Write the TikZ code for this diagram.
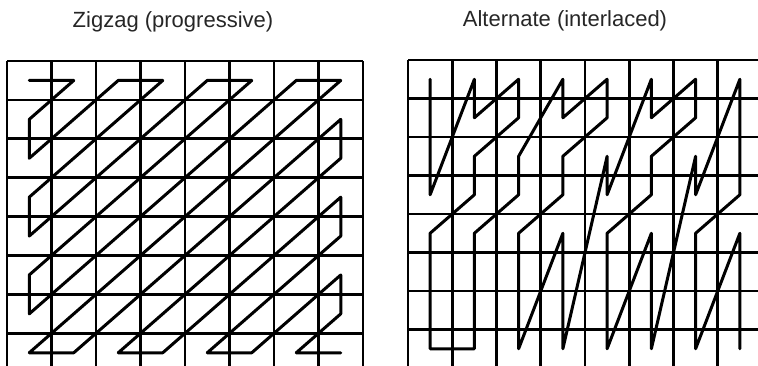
\documentclass[tikz,border=0pt]{standalone}
\usepackage{fontspec}
\setmainfont{Liberation Sans}
\begin{document}
\begin{tikzpicture}[x=1pt,y=-1pt,
  gridline/.style={line width=2.8pt, black},
  scanline/.style={line width=3pt, black, line join=round, line cap=round},
  title/.style={font=\fontsize{22}{26}\selectfont, inner sep=0pt, text=black!85}]
\useasboundingbox (0,0) rectangle (758,365);
\begin{scope}
\clip (0,0) rectangle (758,365);
% ---------- left grid (zigzag) ----------
\def\lx{7}\def\ly{61}\def\lw{44.5}\def\lh{38.9}
\foreach \i in {0,...,8} {
  \draw[gridline] (\lx+\i*\lw, \ly) -- (\lx+\i*\lw, \ly+8*\lh);
  \draw[gridline] (\lx, \ly+\i*\lh) -- (\lx+8*\lw, \ly+\i*\lh);
}
\foreach \c in {0,...,7} \foreach \r in {0,...,7}
  \coordinate (L\c\r) at (\lx+\c*\lw+0.5*\lw, \ly+\r*\lh+0.5*\lh);
\draw[scanline] (L00)--(L10)--(L01)--(L02)--(L20)--(L30)--(L03)--(L04)--(L40)--(L50)
  --(L05)--(L06)--(L60)--(L70)--(L07)--(L17)--(L71)--(L72)--(L27)--(L37)--(L73)--(L74)
  --(L47)--(L57)--(L75)--(L76)--(L67)--(L77);
% ---------- right grid (alternate) ----------
\def\rx{408}\def\ry{60}\def\rw{44.25}\def\rh{38.5}
\foreach \i in {0,...,8} {
  \draw[gridline] (\rx+\i*\rw, \ry) -- (\rx+\i*\rw, \ry+8*\rh);
  \draw[gridline] (\rx, \ry+\i*\rh) -- (\rx+8*\rw, \ry+\i*\rh);
}
\foreach \c in {0,...,7} \foreach \r in {0,...,7}
  \coordinate (R\c\r) at (\rx+\c*\rw+0.5*\rw, \ry+\r*\rh+0.5*\rh);
\draw[scanline] (R00)--(R01)--(R02)--(R03)--(R10)--(R11)--(R20)--(R21)--(R12)--(R13)
  --(R04)--(R05)--(R06)--(R07)--(R17)--(R16)--(R15)--(R14)--(R23)--(R22)--(R30)--(R31)
  --(R40)--(R41)--(R32)--(R33)--(R24)--(R25)--(R26)--(R27)--(R34)--(R35)--(R36)--(R37)
  --(R42)--(R43)--(R50)--(R51)--(R60)--(R61)--(R52)--(R53)--(R44)--(R45)--(R46)--(R47)
  --(R54)--(R55)--(R56)--(R57)--(R62)--(R63)--(R70)--(R71)--(R72)--(R73)--(R64)--(R65)
  --(R66)--(R67)--(R74)--(R75)--(R76)--(R77);
\end{scope}
% ---------- titles ----------
\node[title] (t1) at (173,22) {Zigzag (progressive)};
\node[title] (t2) at (565,21) {Alternate (interlaced)};
\end{tikzpicture}
\end{document}
